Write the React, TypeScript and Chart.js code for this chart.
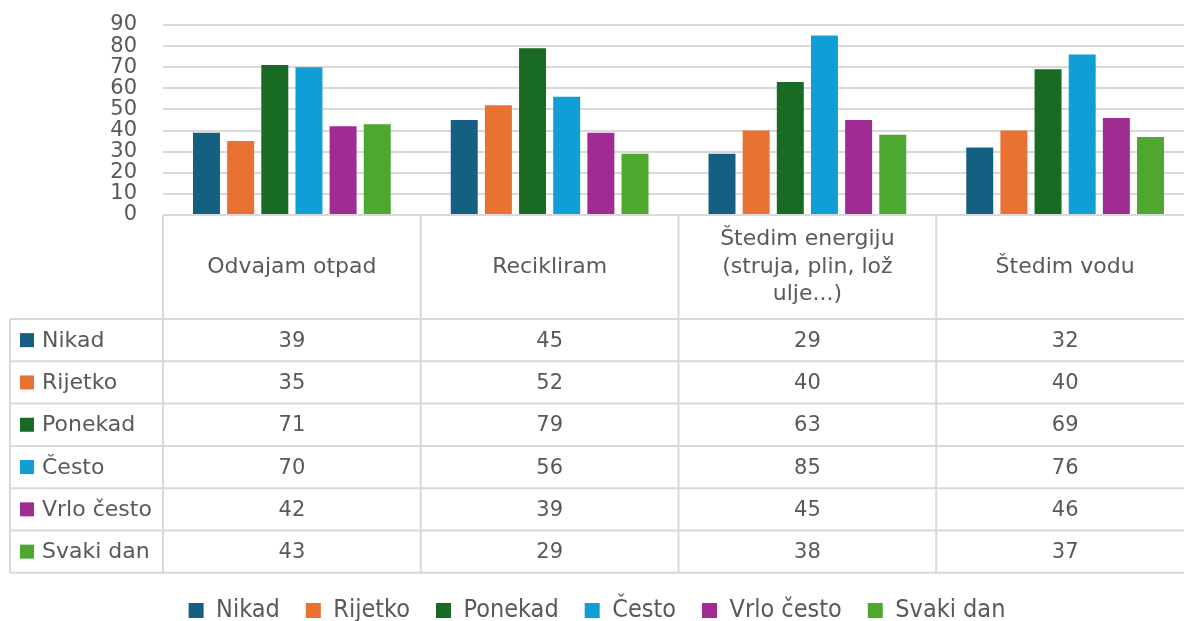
import React, { useEffect, useRef } from "react";
import { Chart, registerables } from "chart.js";

Chart.register(...registerables);

const categories: string[][] = [
  ["Odvajam otpad"],
  ["Recikliram"],
  ["Štedim energiju", "(struja, plin, lož", "ulje...)"],
  ["Štedim vodu"],
];
const seriesNames = ["Nikad", "Rijetko", "Ponekad", "Često", "Vrlo često", "Svaki dan"];
const nikad = [39, 45, 29, 32];
const rijetko = [35, 52, 40, 40];
const ponekad = [71, 79, 63, 69];
const cesto = [70, 56, 85, 76];
const vrloCesto = [42, 39, 45, 46];
const svakiDan = [43, 29, 38, 37];
const seriesValues = [nikad, rijetko, ponekad, cesto, vrloCesto, svakiDan];
const seriesColors = ["#156082", "#E97132", "#196B24", "#0F9ED5", "#A02B93", "#4EA72E"];
const yTicks = [0, 10, 20, 30, 40, 50, 60, 70, 80, 90];

const FONT = "'DejaVu Sans', sans-serif";
const LEGEND_FONT = "'DejaVu Sans Condensed', 'DejaVu Sans', sans-serif";
const TEXT = "#595959";
const GRID = "#d9d9d9";
const PLOT_TOP = 25;
const PLOT_BOTTOM = 215;
const PAD_BOTTOM = -12;
const HEADER_H = 104;
const ROW_H = 42.3;
const TABLE_LEFT = 10;

const tablePlugin = {
  id: "dataTable",
  afterDraw(chart: any) {
    const { ctx, chartArea } = chart;
    const x = chart.scales.x;
    const labels = chart.data.labels as string[][];
    const n = labels.length;
    const colW = chartArea.width / n;
    const top = chartArea.bottom;
    const rowsTop = top + HEADER_H;
    const datasets = chart.data.datasets;
    const bottom = rowsTop + ROW_H * datasets.length;
    ctx.save();
    ctx.strokeStyle = GRID;
    ctx.lineWidth = 2;
    ctx.beginPath();
    ctx.moveTo(chartArea.left, top);
    ctx.lineTo(chartArea.right + 20, top);
    for (let r = 0; r <= datasets.length; r++) {
      const y = rowsTop + r * ROW_H;
      ctx.moveTo(TABLE_LEFT, y);
      ctx.lineTo(chartArea.right + 20, y);
    }
    for (let i = 0; i <= n; i++) {
      const cx = chartArea.left + i * colW;
      ctx.moveTo(cx, top);
      ctx.lineTo(cx, bottom);
    }
    ctx.moveTo(TABLE_LEFT, rowsTop);
    ctx.lineTo(TABLE_LEFT, bottom);
    ctx.stroke();

    ctx.fillStyle = TEXT;
    ctx.font = `22px ${FONT}`;
    ctx.textAlign = "center";
    ctx.textBaseline = "middle";
    const lh = 27.5;
    labels.forEach((lines, i) => {
      const cx = x.getPixelForValue(i);
      const cy = top + HEADER_H / 2;
      const start = cy - ((lines.length - 1) * lh) / 2;
      lines.forEach((ln, k) => ctx.fillText(ln, cx, start + k * lh));
    });

    datasets.forEach((ds: any, r: number) => {
      const cy = rowsTop + r * ROW_H + ROW_H / 2;
      ctx.fillStyle = ds.backgroundColor;
      ctx.fillRect(20, cy - 7, 14, 14);
      ctx.fillStyle = TEXT;
      ctx.textAlign = "left";
      ctx.font = `22px ${FONT}`;
      ctx.fillText(ds.label, 42, cy + 1);
      ctx.textAlign = "center";
      ctx.font = `21px ${FONT}`;
      (ds.data as number[]).forEach((v, i) => {
        ctx.fillText(String(v), x.getPixelForValue(i), cy + 1);
      });
    });
    ctx.restore();
  },
};

export default function App() {
  const ref = useRef<HTMLCanvasElement>(null);
  useEffect(() => {
    document.body.style.margin = "0";
    document.body.style.overflow = "hidden";
    const chart = new Chart(ref.current!, {
      type: "bar",
      data: {
        labels: categories as any,
        datasets: seriesNames.map((name, i) => ({
          label: name,
          data: seriesValues[i],
          backgroundColor: seriesColors[i],
          borderWidth: 0,
          categoryPercentage: 0.795,
          barPercentage: 0.79,
        })),
      },
      options: {
        responsive: false,
        animation: false,
        layout: { padding: { top: PLOT_TOP, left: 0, right: 0, bottom: PAD_BOTTOM } },
        plugins: {
          tooltip: { enabled: false },
          legend: {
            position: "bottom",
            labels: {
              font: { family: LEGEND_FONT, size: 25 },
              color: TEXT,
              boxWidth: 15,
              boxHeight: 15,
              padding: 26,
            },
          },
        },
        scales: {
          x: {
            grid: { display: false },
            border: { display: false },
            ticks: { display: false },
            afterFit: (scale: any) => {
              const lg = scale.chart.legend;
              const lh = lg ? lg.height : 0;
              scale.height = scale.chart.height - PAD_BOTTOM - PLOT_BOTTOM - lh;
            },
          },
          y: {
            min: 0,
            max: 90,
            afterBuildTicks: (scale: any) => {
              scale.ticks = yTicks.map((v) => ({ value: v }));
            },
            ticks: {
              autoSkip: false,
              padding: 0,
              color: TEXT,
              font: { family: FONT, size: 21, lineHeight: 1 },
            },
            grid: {
              color: GRID,
              lineWidth: 2,
              drawTicks: true,
              tickLength: 26,
              tickColor: "rgba(0,0,0,0)",
            },
            border: { display: false },
            afterFit: (scale: any) => {
              scale.width = 163;
            },
          },
        },
      },
      plugins: [tablePlugin],
    });
    return () => chart.destroy();
  }, []);
  return <canvas ref={ref} width={1194} height={621} style={{ display: "block" }} />;
}
